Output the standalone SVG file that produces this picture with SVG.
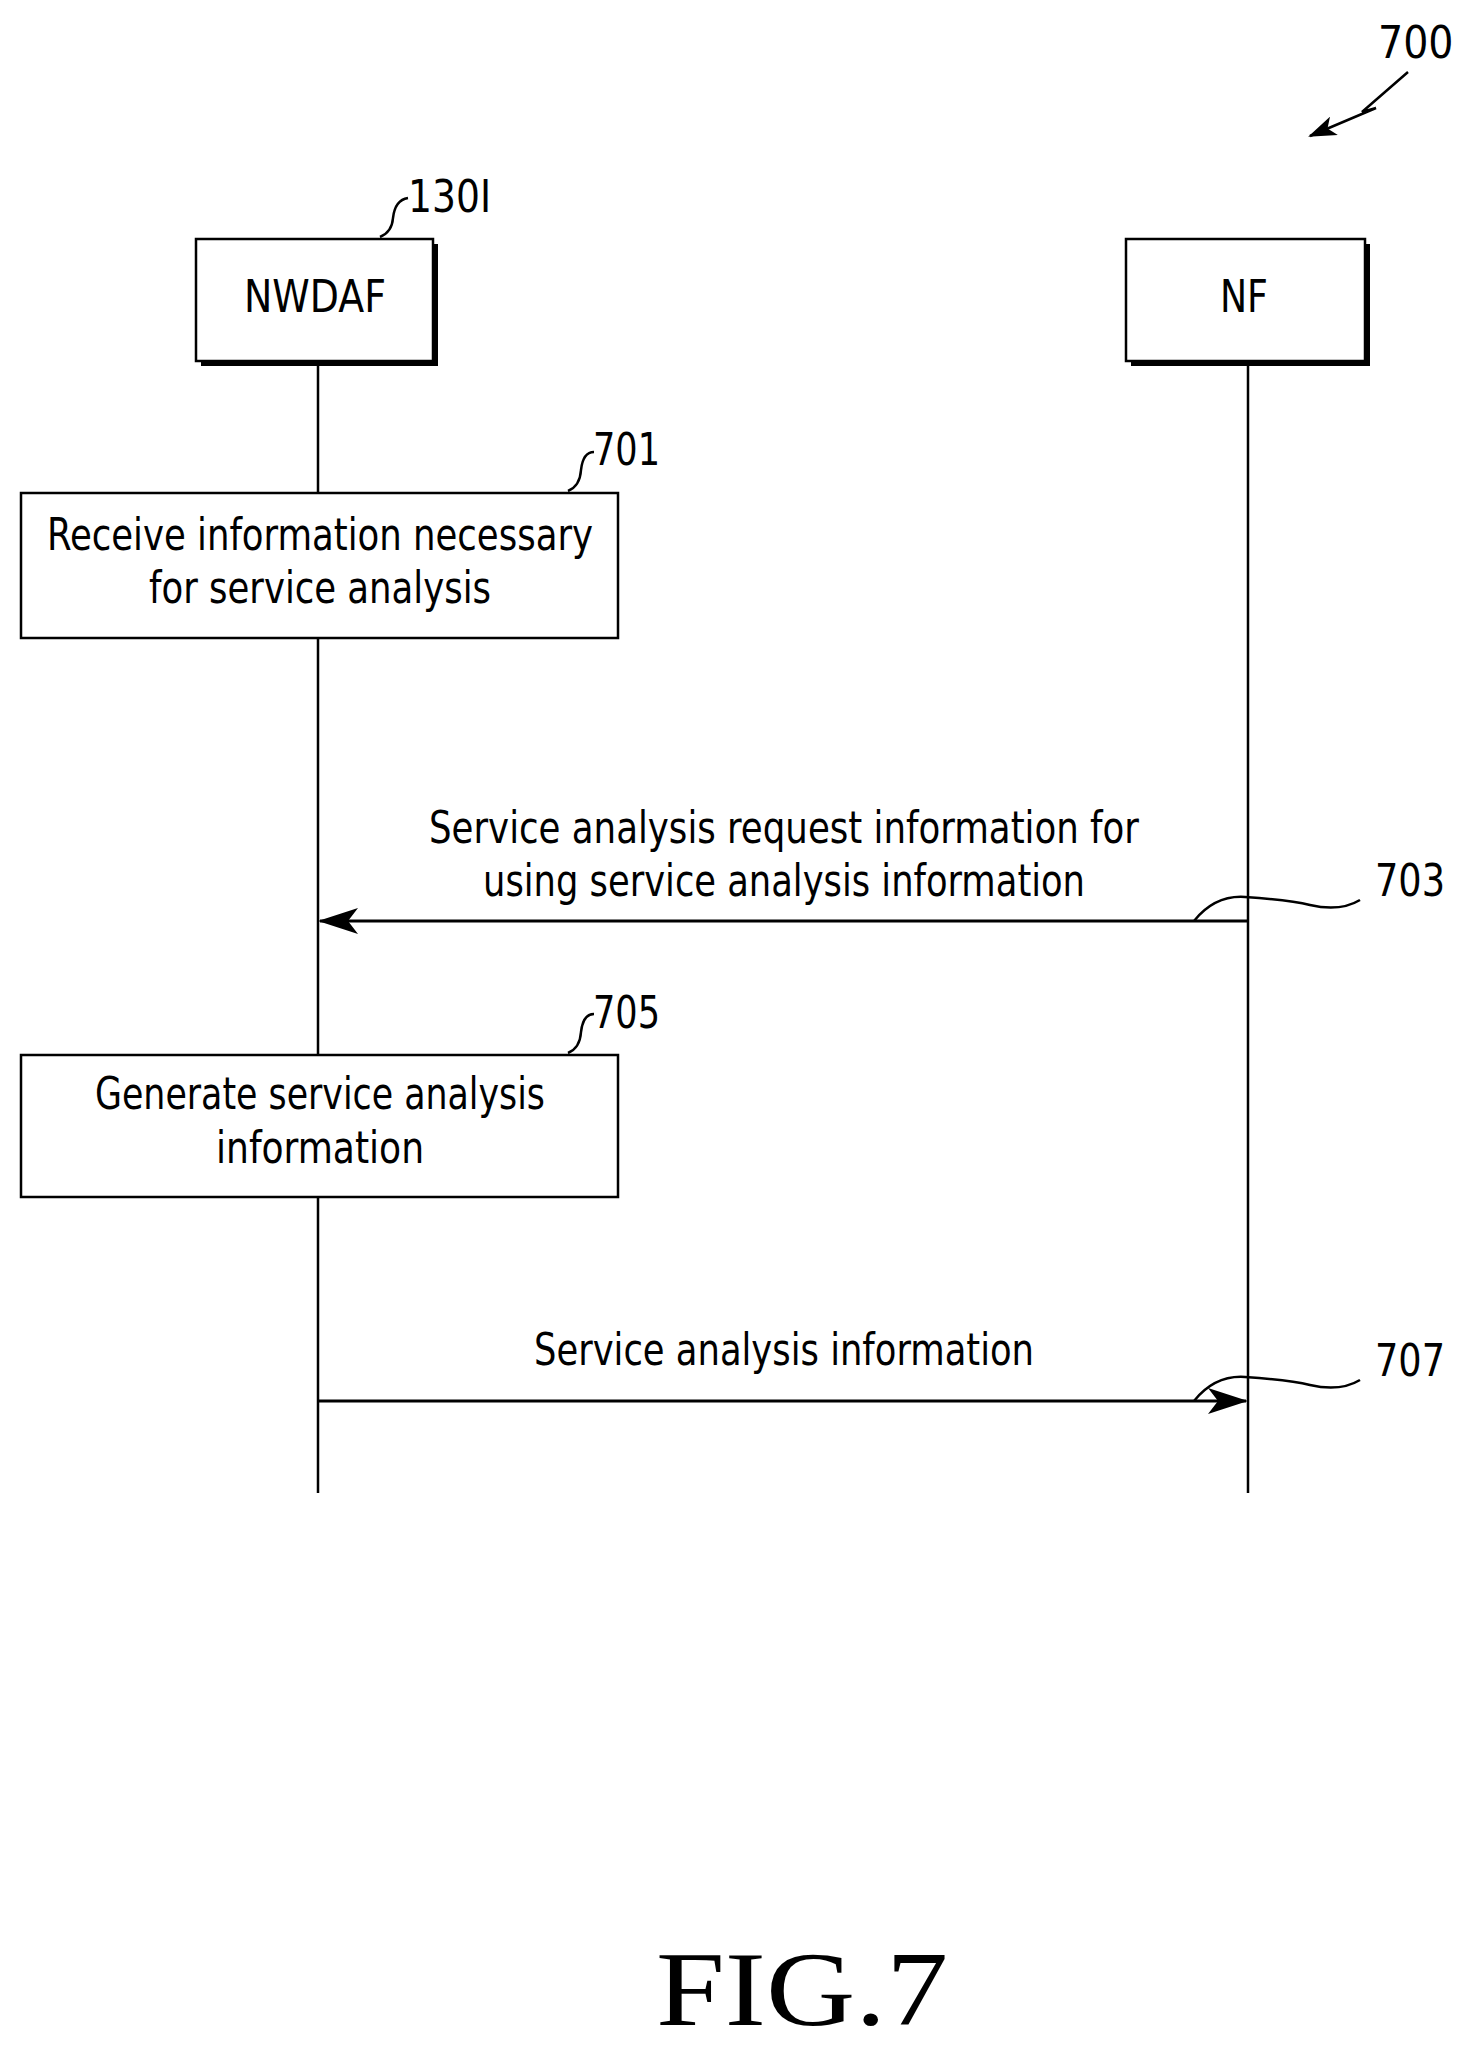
<svg xmlns="http://www.w3.org/2000/svg" width="1461" height="2052" viewBox="0 0 1461 2052">
<style>
.t{font-family:"DejaVu Sans Condensed","DejaVu Sans",sans-serif;font-size:44px;fill:#000}
.n{font-family:"DejaVu Sans Condensed","DejaVu Sans",sans-serif;font-size:44px;fill:#000}
.b{fill:#fff;stroke:#000;stroke-width:2.5}
.l{fill:none;stroke:#000;stroke-width:2.5}
</style>
<defs>
<marker id="ah" markerWidth="40" markerHeight="26" refX="38" refY="13" orient="auto" markerUnits="userSpaceOnUse" viewBox="0 0 40 26"><path d="M0,0 L40,13 L0,26 L10,13 Z" fill="#000"/></marker>
<marker id="ah2" markerWidth="28" markerHeight="20" refX="26" refY="10" orient="auto" markerUnits="userSpaceOnUse" viewBox="0 0 28 20"><path d="M0,0 L28,10 L0,20 L7,10 Z" fill="#000"/></marker>
</defs>
<rect width="1461" height="2052" fill="#fff"/>
<g id="ref700"><text class="n" x="1378" y="58">700</text>
<path class="l" d="M1408,72 L1362,112 L1376,108 L1310,136" marker-end="url(#ah2)"/></g>
<g id="nwdaf"><rect x="201" y="244" width="237" height="122" fill="#000"/><rect class="b" x="196" y="239" width="237" height="122"/>
<text class="t" x="315" y="312" text-anchor="middle" textLength="142" lengthAdjust="spacingAndGlyphs">NWDAF</text>
<text class="n" x="408" y="212" textLength="83" lengthAdjust="spacingAndGlyphs">130I</text>
<path class="l" d="M380,237 Q392,232 393,218 Q395,200 408,198"/></g>
<g id="nf"><rect x="1131" y="244" width="239" height="122" fill="#000"/><rect class="b" x="1126" y="239" width="239" height="122"/>
<text class="t" x="1244" y="312" text-anchor="middle" textLength="48" lengthAdjust="spacingAndGlyphs">NF</text></g>
<g id="connectors">
<line class="l" x1="318" y1="366" x2="318" y2="1493"/>
<line class="l" x1="1248" y1="366" x2="1248" y2="1493"/>
<line class="l" x1="1248" y1="921" x2="320" y2="921" marker-end="url(#ah)" style="stroke-width:3"/>
<line class="l" x1="318" y1="1401" x2="1246" y2="1401" marker-end="url(#ah)" style="stroke-width:3"/>
<path class="l" d="M1194,921 Q1215,895 1245,897 Q1290,900 1310,905 Q1340,912 1360,900"/>
<path class="l" d="M1194,1401 Q1215,1375 1245,1377 Q1290,1380 1310,1385 Q1340,1392 1360,1380"/>
</g>
<g id="step701"><rect class="b" x="21" y="493" width="597" height="145"/>
<text class="t" x="320" y="550" text-anchor="middle" textLength="546" lengthAdjust="spacingAndGlyphs">Receive information necessary</text>
<text class="t" x="320" y="603" text-anchor="middle" textLength="342" lengthAdjust="spacingAndGlyphs">for service analysis</text>
<text class="n" x="593" y="465" textLength="67" lengthAdjust="spacingAndGlyphs">701</text>
<path class="l" d="M568,491 Q580,486 581,470 Q583,452 594,452"/></g>
<g id="msg703"><text class="t" x="784" y="843" text-anchor="middle" textLength="710" lengthAdjust="spacingAndGlyphs">Service analysis request information for</text>
<text class="t" x="784" y="896" text-anchor="middle" textLength="602" lengthAdjust="spacingAndGlyphs">using service analysis information</text>
<text class="n" x="1375" y="896" textLength="70" lengthAdjust="spacingAndGlyphs">703</text></g>
<g id="step705"><rect class="b" x="21" y="1055" width="597" height="142"/>
<text class="t" x="320" y="1109" text-anchor="middle" textLength="450" lengthAdjust="spacingAndGlyphs">Generate service analysis</text>
<text class="t" x="320" y="1163" text-anchor="middle" textLength="208" lengthAdjust="spacingAndGlyphs">information</text>
<text class="n" x="593" y="1028" textLength="67" lengthAdjust="spacingAndGlyphs">705</text>
<path class="l" d="M568,1053 Q580,1048 581,1032 Q583,1014 594,1014"/></g>
<g id="msg707"><text class="t" x="784" y="1365" text-anchor="middle" textLength="500" lengthAdjust="spacingAndGlyphs">Service analysis information</text>
<text class="n" x="1375" y="1376" textLength="70" lengthAdjust="spacingAndGlyphs">707</text></g>
<text x="802" y="2025" text-anchor="middle" font-family="Liberation Serif,serif" font-size="106" textLength="292" lengthAdjust="spacingAndGlyphs">FIG.7</text>
</svg>
